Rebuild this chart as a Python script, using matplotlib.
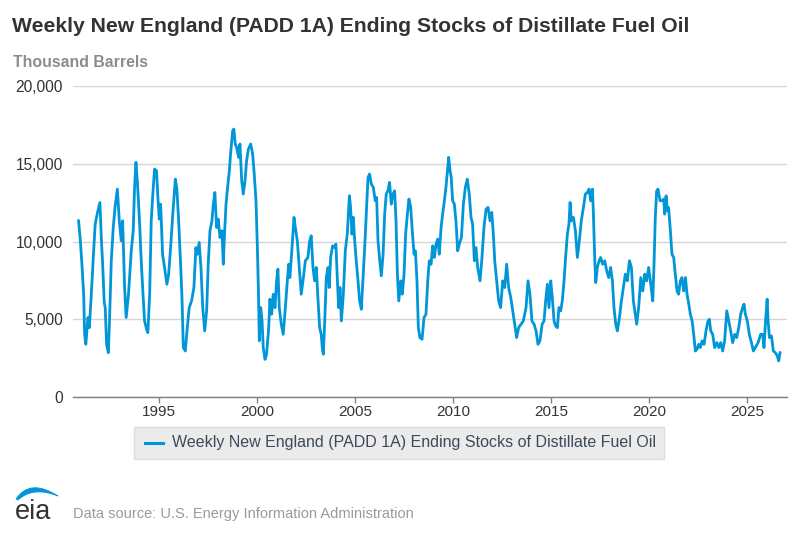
import matplotlib
matplotlib.use("Agg")
import matplotlib.pyplot as plt
from matplotlib.patches import Rectangle, PathPatch
from matplotlib.path import Path
from matplotlib.lines import Line2D
from matplotlib.ticker import FuncFormatter

plt.rcParams['font.family'] = ['Liberation Sans', 'DejaVu Sans']

# ---- data (decimal year, thousand barrels) ----
years_1990s_a = [1990.88, 1990.97, 1991.05, 1991.14, 1991.19, 1991.25, 1991.36, 1991.43, 1991.53, 1991.65, 1991.73, 1991.83, 1991.97,
                 1992.04, 1992.11, 1992.19, 1992.24, 1992.31, 1992.40, 1992.46, 1992.55, 1992.65, 1992.75, 1992.86, 1992.96,
                 1993.06, 1993.13, 1993.23, 1993.31, 1993.43, 1993.57, 1993.67, 1993.74, 1993.81, 1993.89, 1993.99,
                 1994.08, 1994.17, 1994.25, 1994.35, 1994.42, 1994.51, 1994.59, 1994.66, 1994.76, 1994.86, 1994.93,
                 1995.00, 1995.07, 1995.17, 1995.27, 1995.39, 1995.48, 1995.58, 1995.68, 1995.82, 1995.90, 1995.99,
                 1996.09, 1996.16, 1996.23, 1996.33, 1996.43, 1996.53]
stocks_1990s_a = [11330, 10040, 8540, 6610, 4030, 3390, 5110, 4460, 6610, 9400, 11120, 11760, 12510,
                  10260, 8540, 6070, 5750, 3390, 2850, 4890, 8760, 10900, 12300, 13370, 11330,
                  10040, 11330, 7040, 5110, 6610, 9400, 10690, 13480, 15090, 13690, 11330,
                  8760, 6610, 4890, 4360, 4140, 6610, 11330, 12830, 14660, 14550, 12830,
                  11440, 12400, 9180, 8330, 7250, 7900, 9610, 11550, 14010, 13370, 11330,
                  8540, 6400, 3180, 2960, 4460, 5750]

years_1990s_b = [1996.65, 1996.77, 1996.87, 1996.94,
                 1997.04, 1997.13, 1997.22, 1997.32, 1997.42, 1997.50, 1997.59, 1997.69, 1997.76, 1997.84, 1997.93,
                 1998.01, 1998.10, 1998.20, 1998.27, 1998.34, 1998.41, 1998.49, 1998.58, 1998.64, 1998.75, 1998.81, 1998.88, 1998.95,
                 1999.05, 1999.12, 1999.21, 1999.29, 1999.38, 1999.46, 1999.55, 1999.67, 1999.77, 1999.85, 1999.94,
                 2000.01, 2000.06, 2000.11, 2000.18, 2000.25, 2000.31, 2000.40, 2000.48, 2000.59, 2000.65, 2000.74, 2000.82, 2000.91, 2000.99,
                 2001.06, 2001.13, 2001.23, 2001.33, 2001.44, 2001.54, 2001.61, 2001.67, 2001.78, 2001.88, 2001.95,
                 2002.05, 2002.15, 2002.25, 2002.36, 2002.46]
stocks_1990s_b = [6180, 7040, 9610, 9180,
                  9940, 8330, 5750, 4250, 5540, 8540, 10690, 11330, 12400, 13150, 10900,
                  11440, 10260, 10690, 8540, 10690, 12400, 13480, 14550, 15620, 17130, 17230, 16270, 16050,
                  15410, 16270, 13910, 13050, 13910, 15190, 15940, 16270, 15620, 14340, 12620,
                  9610, 7040, 3610, 5750, 4890, 3180, 2420, 2750, 4460, 6290, 5320, 6610, 5750, 7470,
                  8220, 5750, 4680, 4030, 5750, 7470, 8540, 7680, 9610, 11550, 10900,
                  10040, 8330, 6610, 7680, 8760]

years_2000s = [2002.59, 2002.68, 2002.76, 2002.85, 2002.93,
               2003.02, 2003.10, 2003.19, 2003.27, 2003.34, 2003.38, 2003.45, 2003.53, 2003.62, 2003.68, 2003.75, 2003.85, 2003.96,
               2004.02, 2004.09, 2004.16, 2004.23, 2004.30, 2004.40, 2004.50, 2004.60, 2004.71, 2004.77, 2004.84, 2004.91, 2004.98,
               2005.06, 2005.15, 2005.23, 2005.32, 2005.40, 2005.49, 2005.57, 2005.66, 2005.74, 2005.83, 2005.93,
               2006.03, 2006.10, 2006.17, 2006.26, 2006.34, 2006.43, 2006.51, 2006.59, 2006.68, 2006.76, 2006.85, 2006.93,
               2007.02, 2007.09, 2007.16, 2007.23, 2007.33, 2007.41, 2007.50, 2007.58, 2007.67, 2007.75, 2007.84, 2007.92,
               2008.01, 2008.08, 2008.16, 2008.23, 2008.31, 2008.42, 2008.52]
stocks_2000s = [8970, 10040, 10370, 8330, 7470,
                8330, 6400, 4460, 4030, 2960, 2750, 4890, 7680, 8330, 7040, 8970, 9720, 9610,
                9830, 7680, 5750, 7040, 4890, 6610, 9400, 10470, 12940, 12190, 10470, 11550, 10040,
                8760, 7470, 6180, 5640, 7470, 9610, 11760, 14120, 14340, 13690, 13480,
                12620, 12830, 10040, 8760, 7790, 9180, 11760, 13050, 13260, 13800, 12400, 13050,
                13260, 11330, 7900, 6180, 7470, 6610, 7900, 10470, 11760, 12730, 12190, 10690,
                9180, 9400, 7470, 4460, 3820, 3710, 5110]

years_2010s_a = [2008.62, 2008.71, 2008.79, 2008.88, 2008.96,
                 2009.05, 2009.13, 2009.22, 2009.30, 2009.39, 2009.47, 2009.56, 2009.64, 2009.73, 2009.78, 2009.85, 2009.91, 2009.98,
                 2010.07, 2010.15, 2010.24, 2010.32, 2010.43, 2010.53, 2010.63, 2010.73, 2010.83, 2010.92,
                 2011.00, 2011.09, 2011.17, 2011.26, 2011.38, 2011.48, 2011.58, 2011.69, 2011.79, 2011.89, 2011.98,
                 2012.06, 2012.13, 2012.23, 2012.33, 2012.43, 2012.54, 2012.64, 2012.74, 2012.84, 2012.95,
                 2013.05, 2013.15, 2013.25, 2013.35, 2013.47, 2013.59, 2013.73, 2013.83, 2013.93,
                 2014.03, 2014.14, 2014.24, 2014.34, 2014.44, 2014.55]
stocks_2010s_a = [5320, 7470, 8760, 8540, 9720,
                  8970, 9830, 10150, 9180, 10900, 11760, 12620, 13480, 14760, 15410, 14550, 14120, 12620,
                  12400, 11330, 9400, 9830, 10260, 12400, 13480, 14010, 13050, 11550,
                  11120, 8760, 9610, 8330, 7470, 8970, 10900, 12080, 12190, 11330, 11870,
                  10470, 8760, 7470, 6180, 5750, 7470, 7040, 8540, 7040, 6400,
                  5540, 4680, 3820, 4460, 4680, 4890, 5750, 7470, 6610,
                  4890, 4680, 4250, 3390, 3610, 4680]

years_2010s_b = [2014.65, 2014.73, 2014.82, 2014.90, 2014.99,
                 2015.07, 2015.16, 2015.24, 2015.33, 2015.41, 2015.50, 2015.58, 2015.67, 2015.75, 2015.84, 2015.92, 2015.98,
                 2016.04, 2016.15, 2016.25, 2016.35, 2016.45, 2016.55, 2016.66, 2016.76, 2016.86, 2016.95,
                 2017.03, 2017.12, 2017.17, 2017.24, 2017.29, 2017.37, 2017.46, 2017.54, 2017.64, 2017.75, 2017.85, 2017.95,
                 2018.05, 2018.14, 2018.22, 2018.31, 2018.39, 2018.50, 2018.60, 2018.70, 2018.80, 2018.90,
                 2019.01, 2019.11, 2019.21, 2019.31, 2019.38, 2019.48, 2019.59, 2019.69, 2019.79, 2019.89, 2019.99,
                 2020.10, 2020.20, 2020.27, 2020.33, 2020.40, 2020.47, 2020.57]
stocks_2010s_b = [4890, 6180, 7250, 5750, 7470,
                  6400, 4890, 4570, 4460, 5750, 5540, 6180, 7470, 8970, 10470, 11120, 12510,
                  11330, 11550, 10690, 8970, 10040, 11330, 12190, 13050, 13150, 13370,
                  12620, 13370, 11760, 8760, 7360, 8330, 8760, 8970, 8540, 8760, 8110, 7680,
                  8330, 7470, 5750, 4680, 4250, 5110, 6180, 7040, 7900, 7470,
                  8760, 8330, 6180, 5320, 4680, 5750, 7680, 6820, 7900, 7470, 8330,
                  7250, 6180, 8760, 11550, 13260, 13370, 12620]

years_2020s = [2020.67, 2020.76, 2020.81, 2020.88, 2020.95,
               2021.01, 2021.10, 2021.18, 2021.27, 2021.35, 2021.44, 2021.52, 2021.61, 2021.69, 2021.78, 2021.87, 2021.95,
               2022.04, 2022.12, 2022.21, 2022.29, 2022.38, 2022.46, 2022.55, 2022.63, 2022.72, 2022.82, 2022.92,
               2023.02, 2023.09, 2023.16, 2023.26, 2023.36, 2023.47, 2023.57, 2023.67, 2023.77, 2023.87, 2023.98,
               2024.08, 2024.18, 2024.28, 2024.39, 2024.49, 2024.59, 2024.69, 2024.79, 2024.86, 2024.93,
               2025.03, 2025.13, 2025.24, 2025.34, 2025.44, 2025.58, 2025.71, 2025.82, 2025.88, 2025.95,
               2026.04, 2026.09, 2026.16, 2026.26, 2026.36, 2026.46, 2026.56, 2026.63, 2026.70]
stocks_2020s = [12620, 12730, 11760, 12940, 11970,
                12190, 10690, 9180, 8970, 7900, 6820, 6610, 7470, 7680, 6820, 7680, 6610,
                5970, 5320, 4890, 4030, 2960, 3070, 3390, 3180, 3610, 3390, 4250,
                4890, 5000, 4250, 4030, 3180, 3500, 3180, 3500, 2960, 3610, 5540,
                4890, 4250, 3500, 4030, 3820, 4460, 5320, 5750, 5970, 5320,
                4890, 4030, 3500, 2960, 3180, 3500, 4030, 4030, 3180, 4680,
                6290, 4890, 3820, 3930, 2960, 2850, 2640, 2320, 2850]

x_ticks = [1995, 2000, 2005, 2010, 2015, 2020, 2025]
y_ticks = [0, 5000, 10000, 15000, 20000]

series_name = "Weekly New England (PADD 1A) Ending Stocks of Distillate Fuel Oil"
title = "Weekly New England (PADD 1A) Ending Stocks of Distillate Fuel Oil"
units = "Thousand Barrels"
source = "Data source: U.S. Energy Information Administration"

years = years_1990s_a + years_1990s_b + years_2000s + years_2010s_a + years_2010s_b + years_2020s
stocks = stocks_1990s_a + stocks_1990s_b + stocks_2000s + stocks_2010s_a + stocks_2010s_b + stocks_2020s

# ---- figure ----
W, H = 800, 533
fig = plt.figure(figsize=(W / 100, H / 100), dpi=100)
fig.patch.set_facecolor('white')

def fx(px):
    return px / W

def fy(py):
    return 1 - py / H

LINE = '#0096d7'
ax = fig.add_axes([fx(72.7), fy(397), fx(786.7) - fx(72.7), fy(86) - fy(397)])
ax.plot(years, stocks, color=LINE, lw=2.0, solid_joinstyle='round', zorder=3)
ax.set_xlim(1990.58, 2027.04)
ax.set_ylim(0, 20000)
ax.set_xticks(x_ticks)
ax.set_xticklabels([str(t) for t in x_ticks])
ax.set_yticks(y_ticks)
ax.yaxis.set_major_formatter(FuncFormatter(lambda v, p: f"{int(v):,}"))
ax.grid(axis='y', color='#d6d6d6', lw=1.0, zorder=0)
for s in ('top', 'right', 'left'):
    ax.spines[s].set_visible(False)
ax.spines['bottom'].set_color('#7f7f7f')
ax.spines['bottom'].set_linewidth(1.0)
ax.tick_params(axis='y', length=0, pad=7, labelsize=11.2, labelcolor='#333333')
ax.tick_params(axis='x', length=4, width=1, color='#7f7f7f', pad=2, labelsize=11, labelcolor='#333333')
ax.set_axisbelow(True)

# ---- titles ----
fig.text(fx(12), fy(32), title, fontsize=15.2, fontweight='bold', color='#333333', va='baseline', ha='left')
fig.text(fx(13), fy(67), units, fontsize=11.4, fontweight='bold', color='#8c8c8c', va='baseline', ha='left')

# ---- legend ----
fig.patches.append(Rectangle((fx(134), fy(459)), fx(664) - fx(134), fy(427) - fy(459),
                             transform=fig.transFigure, facecolor='#ebebeb', edgecolor='#dddddd', lw=1.0))
fig.lines.append(Line2D([fx(145), fx(163)], [fy(443), fy(443)], transform=fig.transFigure, color=LINE, lw=2.2))
fig.text(fx(172), fy(443), series_name, fontsize=11.5, color='#3c4a5c', va='center', ha='left')

# ---- footer ----
fig.text(fx(73), fy(518), source, fontsize=10.5, color='#9a9a9a', va='baseline', ha='left')
fig.text(fx(15), fy(519), "eia", fontsize=19.5, color='#333333', va='baseline', ha='left')
verts = [(16, 499), (30, 478), (58, 496), (58, 496), (33, 486), (18, 500), (16, 499)]
codes = [Path.MOVETO, Path.CURVE3, Path.CURVE3, Path.LINETO, Path.CURVE3, Path.CURVE3, Path.CLOSEPOLY]
swoosh = Path([(fx(x), fy(y)) for x, y in verts], codes)
fig.patches.append(PathPatch(swoosh, transform=fig.transFigure, facecolor=LINE, edgecolor=LINE, lw=0.6))

fig.savefig('out.png', dpi=100, facecolor='white')
